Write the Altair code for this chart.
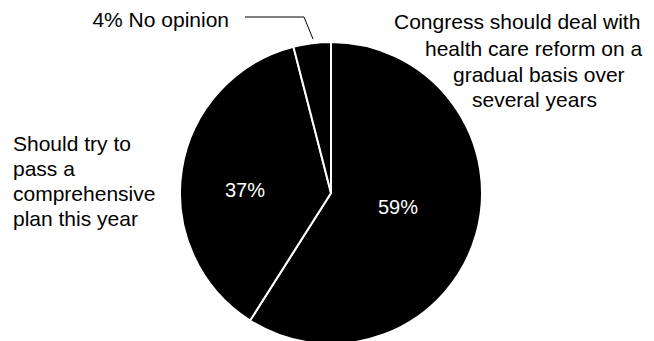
import altair as alt
import pandas as pd

# ---- data ----
categories = [
    "Congress should deal with health care reform on a gradual basis over several years",
    "Should try to pass a comprehensive plan this year",
    "No opinion",
]
shares = [59, 37, 4]
share_labels = ["59%", "37%", "4%"]
gradual_lines = ["Congress should deal with", "health care reform on a", "gradual basis over", "several years"]
plan_lines = ["Should try to", "pass a", "comprehensive", "plan this year"]
no_opinion_text = "4% No opinion"

df = pd.DataFrame({"category": categories, "share": shares, "label": share_labels, "order": [0, 1, 2]})

W, H = 654, 341
CX, CY, R = 331, 193, 151
FONT = "Liberation Sans"
FS = 21

pie = alt.Chart(df).mark_arc(outerRadius=R, stroke="white", strokeWidth=2, color="black").encode(
    theta=alt.Theta("share:Q", stack=True),
    order=alt.Order("order:Q"),
    x=alt.value(CX),
    y=alt.value(CY),
)


def pie_label(label, x, y):
    return alt.Chart(df).transform_filter(alt.datum.label == label).mark_text(
        font=FONT, fontSize=20, color="white", align="center", baseline="middle"
    ).encode(text="label:N", x=alt.value(x), y=alt.value(y))


def text_line(txt, x, y, align="left"):
    return alt.Chart(pd.DataFrame({"t": [txt]})).mark_text(
        font=FONT, fontSize=FS, color="black", align=align, baseline="middle"
    ).encode(text="t:N", x=alt.value(x), y=alt.value(y))


layers = [pie, pie_label("59%", 398, 208), pie_label("37%", 245, 191)]

right_x = [394, 425, 453, 472]
right_y = [23, 50, 76, 101]
for line, x, y in zip(gradual_lines, right_x, right_y):
    layers.append(text_line(line, x, y))

left_y = [145, 170, 195, 220]
for line, y in zip(plan_lines, left_y):
    layers.append(text_line(line, 13, y))

layers.append(text_line(no_opinion_text, 229, 21, align="right"))

dummy = pd.DataFrame({"a": [0]})
leader1 = alt.Chart(dummy).mark_rule(color="black", strokeWidth=1).encode(
    x=alt.value(245), x2=alt.value(304), y=alt.value(17), y2=alt.value(17)
)
leader2 = alt.Chart(dummy).mark_rule(color="black", strokeWidth=1).encode(
    x=alt.value(304), x2=alt.value(313), y=alt.value(17), y2=alt.value(39)
)
layers += [leader1, leader2]

chart = alt.layer(*layers).properties(
    width=W, height=H, padding=0, autosize="none", background="white"
).configure_view(strokeWidth=0)

chart.save("out.html", embed_options={"renderer": "svg", "actions": False})
